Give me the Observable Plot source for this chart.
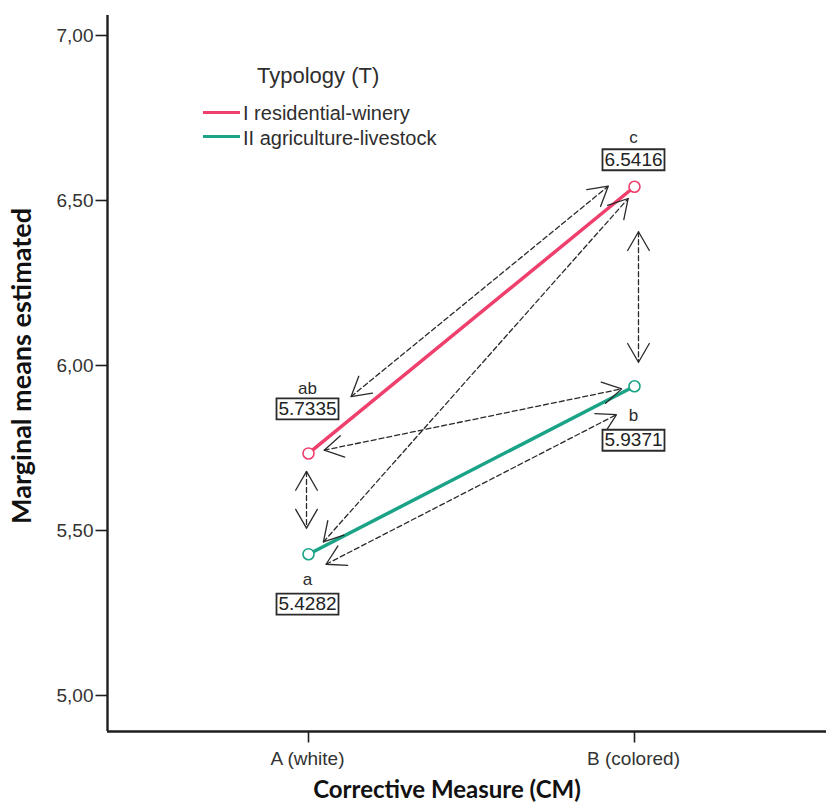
<!DOCTYPE html>
<html>
<head>
<meta charset="utf-8">
<script src="https://cdn.jsdelivr.net/npm/d3@7"></script>
<script src="https://cdn.jsdelivr.net/npm/@observablehq/plot@0.6"></script>
<style>
  html, body { margin: 0; padding: 0; background: #fff; }
  #wrap { position: relative; width: 826px; height: 810px; overflow: hidden; }
  #legend { position: absolute; left: 0; top: 0; font-family: "Liberation Sans", Arial, sans-serif; color: #2e2e2e; }
  #legend div { position: absolute; white-space: nowrap; }
</style>
</head>
<body>
<div id="wrap"></div>
<script>
// ---------------- data ----------------
const categories = ["A (white)", "B (colored)"];
const seriesNames = ["I residential-winery", "II agriculture-livestock"];
const residentialWinery = [5.7335, 6.5416];
const agricultureLivestock = [5.4282, 5.9371];
const groupLetters = {
  "I residential-winery": ["ab", "c"],
  "II agriculture-livestock": ["a", "b"]
};
const yTicks = [5.0, 5.5, 6.0, 6.5, 7.0];
const legendTitle = "Typology (T)";
const xTitle = "Corrective Measure (CM)";
const yTitle = "Marginal means estimated";
// pairwise comparisons: [series index, category index] -> [series index, category index]
const comparisons = [
  [[0, 0], [0, 1]],
  [[1, 0], [0, 1]],
  [[0, 0], [1, 1]],
  [[1, 0], [1, 1]],
  [[0, 0], [1, 0]],
  [[0, 1], [1, 1]]
];

// ---------------- styles ----------------
const colors = ["#ef3f6d", "#1aa386"];
const yDomain = [4.8909, 7.0606];
const xDomain = [-0.6166, 1.589];
// label offsets per point (letter centre, box centre), px
const labelStyle = {
  "I residential-winery": [{letter: -65, box: -44.5}, {letter: -49, box: -27}],
  "II agriculture-livestock": [{letter: 25, box: 50}, {letter: 29, box: 54}]
};
// arrow styling: offset (dx,dy) and insets in px
const arrowStyle = [
  {dx: -10.8, dy: -13.2, insetStart: 69, insetEnd: 20},
  {dx: 2.3, dy: 2.0, insetStart: 19, insetEnd: 13},
  {dx: 0, dy: 0, insetStart: 16, insetEnd: 13},
  {dx: 7.8, dy: 15.1, insetStart: 11, insetEnd: 29},
  {dx: -2, dy: 0, insetStart: 18, insetEnd: 26},
  {dx: 4, dy: 0, insetStart: 45, insetEnd: 24}
];

// ---------------- table ----------------
const seriesValues = [residentialWinery, agricultureLivestock];
const points = [];
seriesNames.forEach((s, si) => {
  categories.forEach((c, ci) => {
    points.push({series: s, si, category: c, xi: ci, value: seriesValues[si][ci],
                 letter: groupLetters[s][ci], label: seriesValues[si][ci].toFixed(4)});
  });
});
const getPoint = (si, ci) => points.find(p => p.si === si && p.xi === ci);

const fmtTick = d => d.toFixed(2).replace(".", ",");

const tickLeft = {draw(ctx) { ctx.moveTo(-12, 0); ctx.lineTo(0, 0); }};
const tickDown = {draw(ctx) { ctx.moveTo(0, 0); ctx.lineTo(0, 11); }};
const boxA = {draw(ctx) { ctx.rect(-31, -10.5, 62, 21); }};

const font = "Liberation Sans, Arial, sans-serif";
const titleFont = "Lato, 'Open Sans', sans-serif";

const marks = [];
// axis lines
marks.push(Plot.ruleX([xDomain[0]], {x: d => d, stroke: "#1e1e1e", strokeWidth: 2.4}));
marks.push(Plot.ruleY([yDomain[0]], {y: d => d, stroke: "#1e1e1e", strokeWidth: 2.4}));
// y ticks and labels
marks.push(Plot.dot(yTicks, {x: () => xDomain[0], y: d => d, symbol: tickLeft, r: 3, stroke: "#1e1e1e", strokeWidth: 1.6, fill: "none"}));
marks.push(Plot.text(yTicks, {x: () => xDomain[0], y: d => d, text: fmtTick, textAnchor: "end", dx: -14, fontSize: 19, fontFamily: font, fill: "#333"}));
// x ticks and labels
marks.push(Plot.dot([0, 1], {x: d => d, y: () => yDomain[0], symbol: tickDown, r: 3, stroke: "#1e1e1e", strokeWidth: 1.6, fill: "none"}));
marks.push(Plot.text([0, 1], {x: d => d, y: () => yDomain[0], text: i => categories[i], dy: 27, dx: -1, fontSize: 19, letterSpacing: 0.6, fontFamily: font, fill: "#333"}));
// axis titles
marks.push(Plot.text([xTitle], {frameAnchor: "bottom", text: d => d, textAnchor: "middle", dx: -20, dy: 66, fontSize: 24, fontWeight: "bold", fontFamily: titleFont, fill: "#111"}));
marks.push(Plot.text([yTitle], {frameAnchor: "left", text: d => d, textAnchor: "middle", rotate: -90, dx: -85, dy: -7.5, fontSize: 27, fontWeight: "bold", fontFamily: titleFont, fill: "#111"}));

// series lines
marks.push(Plot.line(points, {x: "xi", y: "value", z: "series", stroke: "series", strokeWidth: 3.5}));
marks.push(Plot.dot(points, {x: "xi", y: "value", stroke: "series", fill: "white", r: 5.5, strokeWidth: 1.6}));

// comparison arrows (forward and reverse for double heads)
comparisons.forEach(([[s1, c1], [s2, c2]], k) => {
  const a = getPoint(s1, c1), b = getPoint(s2, c2);
  const st = arrowStyle[k];
  const common = {stroke: "#2a2a2a", strokeWidth: 1.3, strokeDasharray: "5,3", headLength: 25, headAngle: 60, dx: st.dx, dy: st.dy};
  marks.push(Plot.arrow([{a, b}], {x1: d => d.a.xi, y1: d => d.a.value, x2: d => d.b.xi, y2: d => d.b.value,
    insetStart: st.insetStart, insetEnd: st.insetEnd, ...common}));
  marks.push(Plot.arrow([{a, b}], {x1: d => d.b.xi, y1: d => d.b.value, x2: d => d.a.xi, y2: d => d.a.value,
    insetStart: st.insetEnd, insetEnd: st.insetStart, ...common}));
});

// value labels
points.forEach(p => {
  const ls = labelStyle[p.series][p.xi];
  marks.push(Plot.text([p], {x: "xi", y: "value", text: "letter", dy: ls.letter, dx: -1, fontSize: 17, fontFamily: font, fill: "#2b2b2b"}));
  marks.push(Plot.dot([p], {x: "xi", y: "value", symbol: boxA, r: 3, dy: ls.box, dx: -1, fill: "white", stroke: "#2b2b2b", strokeWidth: 1.8}));
  marks.push(Plot.text([p], {x: "xi", y: "value", text: "label", dy: ls.box, dx: -1, fontSize: 19, fontFamily: font, fill: "#222"}));
});

const chart = Plot.plot({
  width: 826,
  height: 810,
  marginTop: 15,
  marginLeft: 107,
  marginRight: 0,
  marginBottom: 79,
  x: {type: "linear", domain: xDomain, axis: null},
  y: {type: "linear", domain: yDomain, axis: null},
  color: {domain: seriesNames, range: colors},
  style: {background: "white", fontFamily: font, overflow: "visible"},
  marks
});

// split arrow paths: dashed shaft, solid head; arrow marks alternate forward / reverse
const arrowGroups = Array.from(chart.querySelectorAll('g[aria-label="arrow"]'));
arrowGroups.forEach((g, gi) => {
  const isRev = gi % 2 === 1;
  Array.from(g.querySelectorAll("path")).forEach(p => {
    const d = p.getAttribute("d");
    if (!d) return;
    const k = d.indexOf("M", 1);
    if (k < 0) return;
    const head = p.cloneNode();
    head.setAttribute("d", d.slice(k));
    head.setAttribute("stroke-dasharray", "none");
    g.appendChild(head);
    if (isRev) p.remove(); else p.setAttribute("d", d.slice(0, k));
  });
});

const wrap = document.getElementById("wrap");
wrap.appendChild(chart);

// legend
const legend = document.createElement("div");
legend.id = "legend";
let html = `<div style="left:257px;top:63px;font-size:22px;line-height:26px;">${legendTitle}</div>`;
seriesNames.forEach((s, i) => {
  const base = [120, 145][i];
  html += `<div style="left:203px;top:${[110.5, 135][i]}px;width:37px;height:3px;background:${colors[i]}"></div>`;
  html += `<div style="left:243px;top:${base - 19.5}px;font-size:20px;line-height:25px;">${s}</div>`;
});
legend.innerHTML = html;
wrap.appendChild(legend);
</script>
</body>
</html>
